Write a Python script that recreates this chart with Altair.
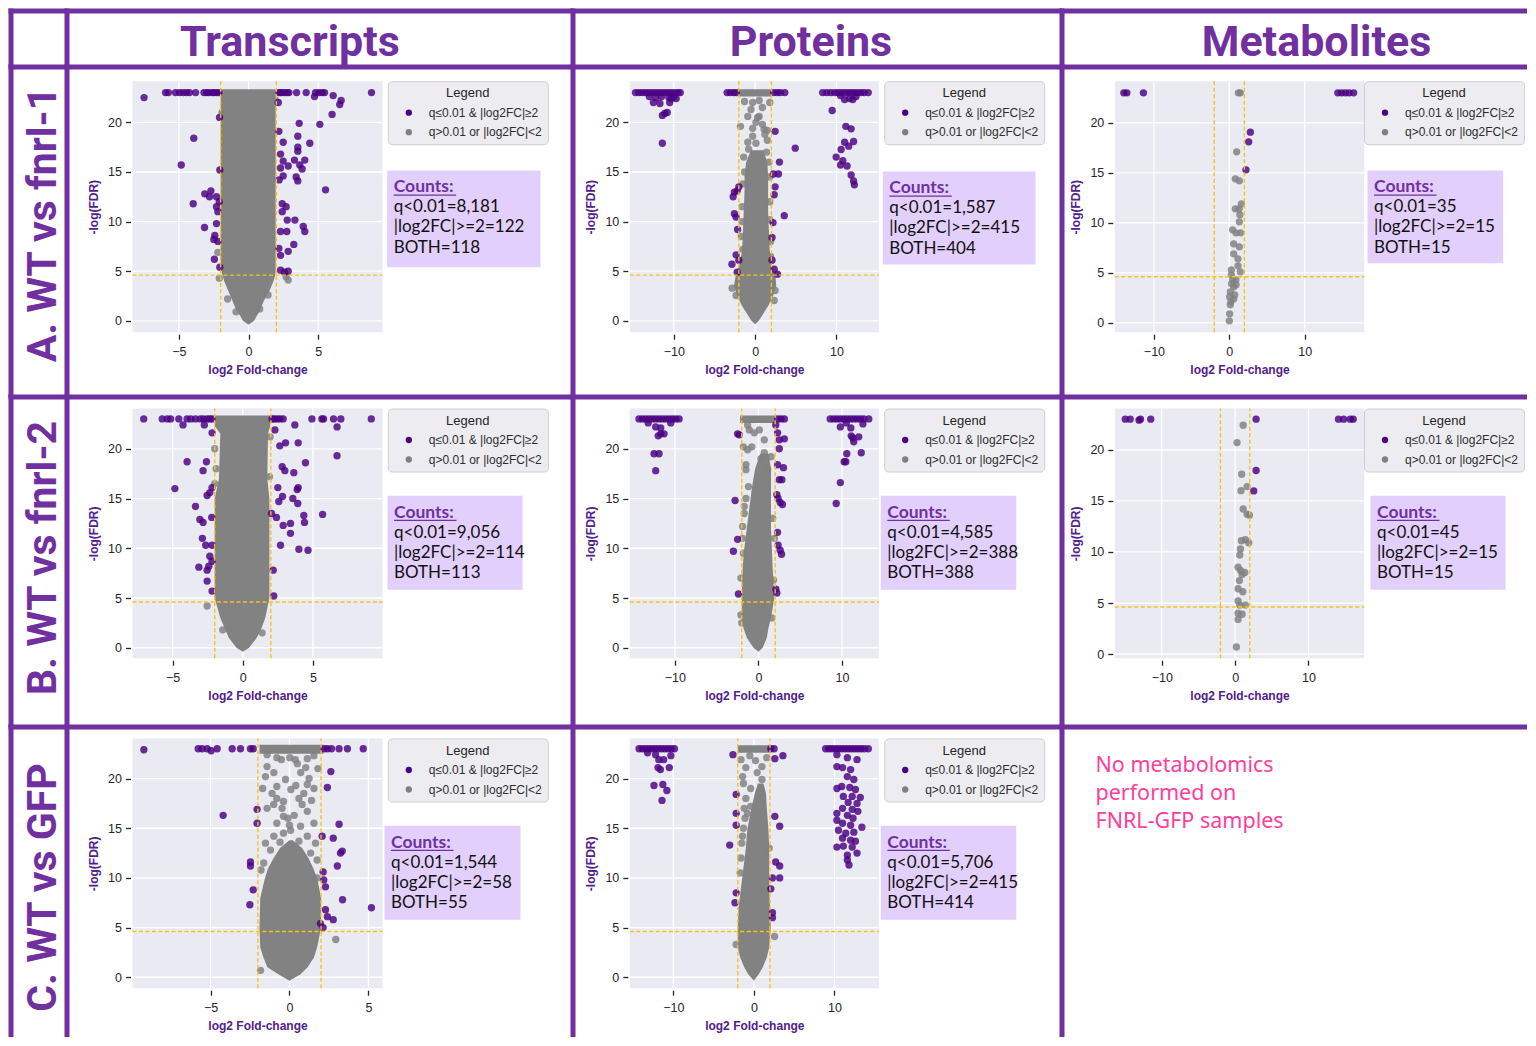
import math
import altair as alt
import pandas as pd

# ------------------------------------------------------------------ data
SIG_LABEL = "q≤0.01 & |log2FC|≥2"
NS_LABEL = "q>0.01 or |log2FC|<2"
FC_CUT = 2.0
Q_CUT = 0.01
TOP_CAP = 23.0
Y_TICKS = [0, 5, 10, 15, 20]

COLUMN_TITLES = ["Transcripts", "Proteins", "Metabolites"]
ROW_TITLES = ["A. WT vs fnrl-1", "B. WT vs fnrl-2", "C. WT vs GFP"]
NOTE_LINES = ["No metabolomics", "performed on", "FNRL-GFP samples"]
COUNT_PREFIX = ["q<0.01=", "|log2FC|>=2=", "BOTH="]

# ---- Transcripts, WT vs fnrl-1
TA_COUNTS = ["8,181", "122", "118"]
TA_XDOM = [-8.33, 9.62]
TA_YDOM = [-1.15, 24.15]
TA_XTICKS = [-5, 0, 5]
TA_TOP_SIG_X = [-5.96, -5.75, -5.24, -4.95, -4.69, -4.45, -4.24, -3.8, -3.2, -3.0, -2.85, -2.6,
                -2.49, -2.3, -2.13, 2.18, 2.3, 2.42, 2.6, 2.78, 2.9, 3.45, 4.14, 4.81, 5.05, 5.29,
                5.46, 8.83]
TA_SIG = [(-7.5, 22.5), (4.74, 22.6), (6.08, 22.7), (6.65, 22.2), (6.55, 21.8), (6.0, 20.8),
          (5.12, 19.8), (3.64, 19.9), (4.4, 17.9), (2.49, 18.0), (3.54, 18.6), (3.54, 17.5),
          (3.54, 17.1), (2.18, 19.1), (2.3, 16.8), (4.04, 16.2), (3.3, 16.2), (3.68, 15.7),
          (3.85, 15.3), (2.85, 15.6), (2.49, 16.1), (2.3, 15.4), (2.49, 14.6), (3.42, 14.5),
          (3.54, 14.1), (5.53, 13.2), (2.2, 14.2), (2.42, 11.8), (2.7, 11.5), (2.42, 11.0),
          (2.78, 10.15), (3.33, 10.15), (3.93, 9.5), (4.04, 9.0), (2.75, 9.0), (2.3, 9.0),
          (3.25, 7.7), (2.85, 7.0), (2.3, 6.6), (2.18, 7.3), (2.3, 5.1), (2.58, 4.9), (2.85, 5.0),
          (2.14, 22.0), (-3.93, 18.4), (-4.83, 15.7), (-2.08, 20.5), (-2.06, 15.2), (-3.14, 12.8),
          (-2.7, 13.1), (-2.8, 12.5), (-2.3, 12.5), (-3.97, 11.8), (-2.3, 11.5), (-2.1, 12.0),
          (-2.2, 11.0), (-3.16, 9.4), (-2.3, 9.8), (-2.42, 8.6), (-2.49, 8.2), (-2.2, 8.0),
          (-2.45, 6.2), (-2.06, 5.4)]
TA_NS = [(2.85, 4.1), (2.7, 4.45), (-2.1, 4.3), (-2.2, 6.9), (1.9, 22.3), (-1.9, 21.0),
         (-1.5, 2.2), (1.4, 2.6), (-0.9, 0.9), (0.8, 1.2)]
TA_CORE = [(0, -0.4, 0.0, 0.0), (0, 0.0, -0.4, 0.4), (0, 0.5, -0.6, 0.6), (0, 1.0, -0.85, 0.82),
           (0, 1.5, -1.0, 0.95), (0, 2.0, -1.15, 1.1), (0, 2.5, -1.3, 1.3), (0, 3.0, -1.45, 1.5),
           (0, 3.5, -1.6, 1.65), (0, 4.0, -1.75, 1.8), (0, 4.5, -1.85, 1.9), (0, 5.0, -1.95, 1.95),
           (0, 6.0, -2.0, 1.95), (0, 23.35, -2.0, 1.95)]

# ---- Transcripts, WT vs fnrl-2
TB_COUNTS = ["9,056", "114", "113"]
TB_XDOM = [-7.86, 9.96]
TB_YDOM = [-1.05, 24.05]
TB_XTICKS = [-5, 0, 5]
TB_TOP_SIG_X = [-7.06, -5.74, -5.38, -5.14, -4.56, -3.97, -3.7, -3.37, -3.02, -2.8, -2.54, -2.35,
                -2.19, 2.09, 2.25, 2.45, 2.65, 2.88, 4.93, 5.64, 5.76, 6.47, 6.99, 9.16]
TB_SIG = [(-4.26, 22.4), (-2.74, 22.4), (-2.19, 21.6), (3.71, 22.4), (2.29, 21.9), (6.72, 22.2),
          (6.72, 19.3), (3.95, 20.6), (3.05, 20.6), (2.64, 20.3), (-3.97, 18.7), (-2.59, 18.7),
          (-2.83, 17.8), (4.47, 18.6), (2.81, 18.2), (3.0, 17.8), (3.64, 17.6), (-4.84, 16.0),
          (-2.19, 16.1), (-2.54, 15.3), (-2.35, 15.6), (2.5, 16.1), (3.95, 16.1), (3.88, 15.9),
          (2.83, 15.2), (3.57, 15.0), (2.57, 14.7), (3.92, 14.5), (-3.37, 14.2), (-3.06, 12.9),
          (-2.83, 12.6), (-2.21, 13.1), (2.05, 13.5), (2.4, 13.1), (4.35, 13.3), (5.69, 13.4),
          (3.4, 12.5), (2.88, 12.3), (4.4, 12.6), (3.4, 11.5), (-2.88, 11.0), (-2.64, 10.3),
          (-2.19, 10.3), (2.69, 10.3), (4.0, 9.9), (4.65, 9.8), (-2.35, 9.2), (-2.19, 8.7),
          (-3.13, 8.1), (-2.54, 7.8), (-2.42, 8.2), (2.17, 7.8), (-2.54, 6.7), (-2.19, 5.7),
          (2.21, 5.2)]
TB_NS = [(-2.54, 4.2), (-1.43, 1.8), (1.38, 1.5), (-2.0, 20.0), (-1.9, 18.0), (1.95, 21.2),
         (1.9, 17.2), (-2.0, 16.5)]
TB_CORE = [(0, -0.4, 0.0, 0.0), (0, 0.0, -0.45, 0.45), (0, 1.0, -1.0, 1.0), (0, 2.0, -1.3, 1.35),
           (0, 3.0, -1.6, 1.6), (0, 4.0, -1.8, 1.75), (0, 5.0, -2.0, 1.9), (0, 15.0, -2.0, 1.9),
           (0, 17.0, -1.7, 1.75), (0, 21.5, -1.6, 1.8), (0, 22.3, -2.0, 1.95), (0, 23.35, -2.0, 1.95)]

# ---- Transcripts, WT vs GFP
TC_COUNTS = ["1,544", "58", "55"]
TC_XDOM = [-9.94, 5.89]
TC_YDOM = [-1.1, 24.03]
TC_XTICKS = [-5, 0, 5]
TC_TOP_SIG_X = [-5.78, -5.53, -5.21, -4.58, -3.63, -3.1, -2.47, -2.3, 2.2, 2.4, 2.66, 3.14, 3.67, 4.67]
TC_SIG = [(-9.22, 22.9), (-4.96, 22.8), (2.62, 20.7), (2.4, 19.1), (-4.2, 16.3), (-2.05, 16.9),
          (-2.05, 15.5), (3.14, 15.4), (2.07, 14.2), (2.77, 14.0), (3.34, 12.7), (3.23, 12.5),
          (-2.47, 11.6), (-2.47, 11.2), (3.03, 11.2), (2.13, 10.6), (2.17, 9.8), (2.28, 9.1),
          (-2.3, 8.8), (-2.51, 7.3), (3.36, 7.8), (5.19, 7.0), (2.28, 6.8), (2.4, 6.1), (2.77, 5.8),
          (1.96, 5.4), (2.13, 5.0)]
TC_NS = [(-1.42, 22.4), (-0.8, 22.1), (-1.42, 21.2), (-0.51, 21.9), (0.02, 22.1), (0.37, 21.9),
         (1.13, 22.0), (1.55, 22.3), (1.03, 21.1), (0.71, 20.6), (1.24, 20.0), (1.13, 19.4),
         (0.4, 19.3), (0.09, 18.9), (0.91, 18.5), (1.55, 19.0), (-1.52, 20.2), (-0.99, 20.6),
         (-0.25, 19.9), (-0.8, 19.2), (-1.1, 18.5), (-0.8, 18.0), (-0.38, 17.7), (-1.0, 17.4),
         (-0.47, 17.0), (-1.42, 17.0), (0.6, 18.0), (0.8, 17.4), (1.13, 16.7), (0.3, 16.3),
         (-0.1, 16.0), (-0.38, 16.2), (-0.8, 15.5), (1.55, 15.5), (0.7, 15.2), (0.07, 14.8),
         (-0.38, 14.5), (-0.99, 14.2), (-1.52, 13.5), (1.13, 14.2), (1.65, 13.5), (-1.2, 12.8),
         (1.34, 12.5), (-1.63, 11.5), (1.75, 11.8), (-1.8, 10.8), (1.75, 10.0), (2.93, 3.8),
         (-1.83, 0.7), (0.5, 21.5), (1.8, 21.0), (-1.7, 19.0), (1.4, 17.8), (0.0, 15.3),
         (-0.6, 13.6), (0.6, 13.7)]
TC_CORE = [(0, -0.35, 0.0, 0.0), (0, 0.3, -0.7, 0.7), (0, 1.0, -1.4, 1.15), (0, 2.0, -1.65, 1.55),
           (0, 3.0, -1.85, 1.75), (0, 5.0, -1.9, 2.0), (0, 8.0, -1.85, 2.0), (0, 10.0, -1.55, 1.75),
           (0, 11.0, -1.35, 1.5), (0, 12.0, -1.0, 1.2), (0, 13.0, -0.6, 0.8), (0, 13.8, 0.0, 0.2),
           (1, 22.5, -1.9, 2.15), (1, 23.4, -1.9, 2.15)]

# ---- Proteins, WT vs fnrl-1
PA_COUNTS = ["1,587", "415", "404"]
PA_XDOM = [-15.4, 15.2]
PA_YDOM = [-1.15, 24.15]
PA_XTICKS = [-10, 0, 10]
PA_TOP_SIG_X = [-14.7, -14.3, -13.9, -13.5, -13.1, -12.7, -12.3, -11.9, -11.5, -11.1, -10.7, -10.3,
                -9.9, -9.5, -9.2, -3.44, -3.03, -2.62, -2.3, 2.29, 2.71, 3.1, 3.65, 8.3, 8.8, 9.3,
                9.8, 10.2, 10.6, 11.0, 11.4, 11.8, 12.2, 12.6, 13.0, 13.4, 13.9]
PA_SIG = [(-13.0, 22.6), (-12.2, 22.5), (-11.5, 22.6), (-10.6, 22.5), (-10.0, 22.6), (-12.5, 22.0),
          (-11.7, 21.9), (-10.5, 22.0), (-10.3, 22.4), (-9.7, 22.4), (-11.1, 20.9), (-11.4, 20.7),
          (-10.8, 21.0), (-11.4, 17.9), (11.0, 22.3), (11.6, 22.4), (12.4, 22.6), (10.5, 22.7),
          (12.0, 22.3), (9.47, 21.2), (11.15, 19.6), (11.8, 19.35), (12.1, 18.07), (11.0, 18.0),
          (10.57, 17.27), (11.5, 17.6), (9.96, 16.5), (10.78, 16.15), (10.5, 15.7), (11.3, 15.6),
          (11.8, 14.7), (12.1, 14.1), (12.2, 13.7), (-2.55, 12.97), (-2.7, 12.5), (-2.0, 13.5),
          (-2.2, 13.1), (-2.55, 10.8), (-2.34, 10.45), (-2.15, 9.2), (-2.34, 6.65), (-2.85, 5.7),
          (-2.2, 4.9), (-2.0, 6.1), (2.46, 19.1), (2.99, 16.0), (2.25, 14.8), (2.87, 14.8),
          (2.46, 13.5), (2.34, 12.7), (3.58, 10.6), (4.93, 17.4), (2.2, 9.9), (2.08, 8.4),
          (2.08, 6.1), (2.34, 5.2), (2.75, 4.7)]
PA_NS = [(-0.9, 20.6), (0.3, 20.5), (0.9, 19.8), (1.1, 19.3), (-0.3, 19.4), (0.5, 20.6),
         (0.1, 20.0), (1.5, 19.2), (-1.8, 19.6), (1.2, 18.8), (-0.3, 18.6), (-0.9, 18.0),
         (1.5, 18.2), (0.1, 17.9), (-0.8, 17.3), (-0.3, 22.0), (0.5, 22.2), (1.8, 22.0),
         (-1.3, 22.1), (0.9, 21.5), (-0.5, 21.3), (1.4, 17.0), (-1.4, 16.5), (1.7, 16.0),
         (-1.3, 15.0), (1.8, 14.5), (-1.5, 13.8), (-1.6, 11.5), (1.8, 12.0), (-1.7, 8.5),
         (1.9, 8.0), (-2.83, 3.29), (2.46, 3.05), (2.34, 2.05), (-2.34, 2.55), (-1.6, 10.0),
         (1.8, 10.2), (-1.5, 7.2), (1.9, 6.5)]
PA_CORE = [(0, -0.35, 0.0, 0.0), (0, 0.0, -0.45, 0.45), (0, 0.7, -1.0, 1.0), (0, 1.5, -1.6, 1.6),
           (0, 2.5, -2.2, 2.2), (0, 3.5, -2.6, 2.6), (0, 4.5, -2.4, 2.5), (0, 5.5, -2.0, 2.1),
           (0, 7.0, -1.6, 1.8), (0, 9.0, -1.5, 1.7), (0, 11.0, -1.4, 1.6), (0, 13.0, -1.3, 1.6),
           (0, 14.5, -1.3, 1.6), (0, 16.0, -1.1, 1.5), (0, 17.2, -0.5, 1.0),
           (1, 22.6, -2.1, 2.0), (1, 23.35, -2.1, 2.0)]

# ---- Proteins, WT vs fnrl-2
PB_COUNTS = ["4,585", "388", "388"]
PB_XDOM = [-15.4, 14.4]
PB_YDOM = [-1.05, 24.05]
PB_XTICKS = [-10, 0, 10]
PB_TOP_SIG_X = [-14.3, -13.9, -13.5, -13.1, -12.7, -12.3, -11.9, -11.5, -11.1, -10.7, -10.3, -9.9,
                -9.5, 2.3, 2.7, 3.1, 8.58, 9.0, 9.4, 9.8, 10.2, 10.6, 11.0, 11.4, 11.8, 12.2,
                12.6, 13.2]
PB_SIG = [(-12.3, 22.2), (-11.7, 22.1), (-13.2, 22.6), (-10.5, 22.6), (-12.0, 21.3), (-11.7, 21.5),
          (-11.3, 21.5), (-12.5, 19.5), (-11.9, 19.5), (-12.3, 17.8), (9.8, 22.2), (11.05, 22.1),
          (11.1, 21.3), (11.3, 21.1), (12.0, 21.2), (11.4, 20.7), (10.57, 19.5), (10.25, 18.7),
          (10.45, 18.7), (12.3, 19.6), (9.8, 16.6), (9.3, 14.5), (12.5, 22.5), (10.5, 22.6),
          (-2.5, 21.5), (-2.3, 21.4), (2.07, 22.4), (2.29, 21.6), (2.49, 20.9), (3.1, 21.0),
          (2.49, 20.0), (2.29, 18.4), (2.99, 18.1), (2.49, 16.9), (2.8, 16.9), (2.2, 15.4),
          (2.35, 15.0), (2.6, 14.6), (2.87, 14.4), (2.28, 11.6), (2.35, 10.3), (2.6, 9.8),
          (2.76, 9.4), (2.08, 5.9), (2.2, 5.5), (-2.8, 14.8), (-2.5, 10.9), (-3.0, 9.7),
          (-2.4, 5.4)]
PB_NS = [(-1.3, 22.4), (-1.1, 21.9), (0.1, 21.9), (-0.5, 21.6), (0.7, 20.9), (-0.8, 20.2),
         (-1.8, 20.2), (-1.3, 19.9), (0.7, 19.6), (1.5, 19.2), (-1.5, 18.4), (-1.5, 17.9),
         (0.3, 19.0), (1.1, 17.9), (-1.7, 13.5), (-1.5, 15.0), (-1.2, 16.2), (-1.9, 12.2),
         (-1.8, 9.5), (1.9, 11.0), (-2.1, 7.0), (1.8, 6.8), (-2.1, 3.3), (-2.0, 2.5), (1.6, 3.0),
         (-1.9, 11.0), (-1.7, 14.2), (1.7, 13.0)]
PB_CORE = [(0, -0.4, 0.0, 0.0), (0, 0.0, -0.6, 0.5), (0, 1.0, -1.4, 1.0), (0, 2.0, -1.8, 1.2),
           (0, 3.0, -2.0, 1.5), (0, 5.0, -2.0, 1.9), (0, 8.0, -1.9, 1.7), (0, 10.0, -1.7, 1.6),
           (0, 12.0, -1.4, 1.5), (0, 14.0, -1.1, 1.5), (0, 16.0, -0.8, 1.5), (0, 18.0, -0.4, 1.5),
           (0, 19.5, 0.2, 1.2), (1, 22.6, -2.2, 2.0), (1, 23.35, -2.2, 2.0)]

# ---- Proteins, WT vs GFP
PC_COUNTS = ["5,706", "415", "414"]
PC_XDOM = [-15.4, 15.5]
PC_YDOM = [-1.1, 24.03]
PC_XTICKS = [-10, 0, 10]
PC_TOP_SIG_X = [-14.25, -13.85, -13.45, -13.05, -12.65, -12.25, -11.85, -11.45, -11.05, -10.65,
                -10.25, -9.86, 2.1, 2.5, 8.9, 9.3, 9.7, 10.1, 10.5, 10.9, 11.3, 11.7, 12.1, 12.5,
                12.9, 13.3, 13.7, 14.2]
PC_SIG = [(-13.2, 22.6), (-12.2, 22.4), (-10.3, 22.3), (-11.8, 21.9), (-11.2, 21.9), (-11.9, 21.1),
          (-11.6, 20.9), (-10.5, 21.1), (-12.4, 19.3), (-11.3, 19.4), (-10.8, 18.8), (-11.4, 17.8),
          (10.3, 22.4), (11.6, 22.1), (12.8, 21.9), (10.3, 21.2), (11.0, 21.1), (12.0, 20.9),
          (11.6, 20.2), (12.4, 19.9), (10.3, 19.0), (10.9, 19.2), (11.9, 19.1), (12.6, 18.9),
          (11.1, 18.2), (12.2, 18.2), (13.2, 18.1), (11.7, 17.6), (12.8, 17.5), (11.0, 17.0),
          (12.2, 16.9), (12.9, 16.7), (10.3, 16.5), (11.6, 16.3), (12.3, 16.0), (10.3, 15.8),
          (11.0, 15.5), (12.0, 15.3), (13.4, 15.1), (10.5, 14.8), (11.4, 14.5), (12.4, 14.6),
          (11.0, 14.0), (12.0, 13.8), (12.6, 13.7), (10.3, 13.1), (11.1, 13.2), (12.2, 13.1),
          (12.8, 12.5), (11.6, 12.3), (11.6, 11.8), (11.8, 11.3), (-2.6, 22.4), (2.6, 22.0),
          (3.6, 22.3), (-2.2, 18.4), (-2.2, 16.5), (-2.2, 15.3), (-3.0, 13.3), (-2.2, 8.5),
          (-2.35, 7.5), (2.6, 16.2), (3.2, 15.2), (2.7, 11.6), (3.2, 11.2), (2.3, 10.0),
          (3.2, 10.0), (2.1, 8.9), (2.3, 6.5), (2.3, 6.0)]
PC_NS = [(-1.6, 21.9), (-1.0, 21.1), (-1.4, 20.2), (0.2, 21.8), (1.0, 21.2), (0.4, 20.6),
         (-1.3, 19.5), (-0.4, 19.0), (1.0, 19.9), (-1.0, 18.0), (-0.4, 17.2), (-1.2, 17.0),
         (-0.8, 16.5), (-1.3, 15.0), (-1.5, 13.5), (-1.6, 12.0), (-1.7, 10.5), (2.56, 4.1),
         (-2.2, 3.3), (1.9, 13.0), (-0.5, 22.3), (1.6, 22.1), (-1.4, 14.2), (-1.1, 16.0)]
PC_CORE = [(0, -0.35, 0.0, 0.0), (0, 0.3, -0.7, 0.6), (0, 1.0, -1.2, 1.1), (0, 2.0, -1.7, 1.6),
           (0, 3.0, -2.0, 1.9), (0, 5.0, -2.0, 2.1), (0, 7.0, -1.9, 2.0), (0, 9.0, -1.6, 1.9),
           (0, 11.0, -1.3, 1.9), (0, 13.0, -1.0, 1.9), (0, 15.0, -0.8, 1.8), (0, 17.0, -0.3, 1.6),
           (0, 18.5, 0.1, 1.5), (0, 19.5, 0.5, 1.2), (1, 22.6, -2.0, 1.95), (1, 23.35, -2.0, 1.95)]

# ---- Metabolites, WT vs fnrl-1
MA_COUNTS = ["35", "15", "15"]
MA_XDOM = [-15.2, 17.9]
MA_YDOM = [-0.94, 24.16]
MA_XTICKS = [-10, 0, 10]
MA_TOP_SIG_X = [-14.0, -13.6, -11.4, 14.4, 14.9, 15.4, 15.9, 16.5]
MA_SIG = [(2.79, 19.06), (2.57, 18.1), (2.21, 15.3)]
MA_NS = [(1.2, 23.0), (1.46, 23.0), (0.97, 17.1), (0.8, 14.4), (1.33, 14.2), (1.6, 11.9),
         (0.8, 11.4), (1.3, 11.4), (1.4, 10.8), (1.33, 10.1), (0.44, 9.3), (0.88, 9.0), (1.5, 9.0),
         (0.58, 7.9), (1.33, 7.6), (0.58, 6.9), (1.15, 6.4), (1.15, 5.7), (1.46, 5.1), (0.27, 4.8),
         (0.44, 4.3), (0.88, 4.3), (0.58, 3.6), (0.13, 3.1), (0.71, 2.8), (0.04, 2.6), (0.58, 2.4),
         (0.13, 1.8), (0.04, 0.9), (0.0, 0.2), (0.27, 5.3), (0.9, 3.8), (0.3, 3.9), (0.2, 2.1)]
MA_CORE = []

# ---- Metabolites, WT vs fnrl-2
MB_COUNTS = ["45", "15", "15"]
MB_XDOM = [-16.4, 17.6]
MB_YDOM = [-0.4, 24.04]
MB_XTICKS = [-10, 0, 10]
MB_TOP_SIG_X = [-14.97, -14.3, -12.9, -11.5, 2.86, 14.1, 14.8, 15.7, 16.1]
MB_SIG = [(-13.1, 22.9), (2.86, 17.97), (2.54, 15.97)]
MB_NS = [(1.1, 22.4), (0.27, 20.7), (0.9, 17.6), (0.8, 16.0), (1.63, 16.4), (1.1, 14.2),
         (1.63, 13.7), (1.95, 13.6), (0.86, 11.1), (1.4, 11.2), (1.86, 10.9), (0.73, 10.3),
         (0.64, 9.7), (0.41, 8.5), (0.73, 8.2), (1.32, 8.0), (0.96, 7.8), (0.59, 7.2), (0.41, 6.4),
         (1.05, 6.1), (0.41, 5.2), (0.64, 4.8), (1.4, 4.8), (0.41, 4.0), (0.96, 3.9), (0.41, 3.4),
         (0.18, 0.7)]
MB_CORE = []

# ------------------------------------------------------------------ style / layout
PURPLE = "#7030a0"
AXIS_PURPLE = "#52218c"
PT_PURPLE = "#4b0082"
PT_GRAY = "#808080"
CORE_GRAY = "#828282"
PLOT_BG = "#eaeaf2"
GOLD = "#f9c21b"
TICK = "#262626"
BOX_FILL = "#e2cffc"
PINK = "#ff3d9a"
SANS = "Liberation Sans"
BODY = "Lato"
NOTE = "Noto Sans"
HEAD = "Roboto"
LINE = 5

COL_W = [56, 506, 489, 465]
ROW_H = [56, 330, 330, 310]
PLOT_X = {1: (65.5, 315.5), 2: (56.8, 305.8), 3: (52.8, 302.2)}
PLOT_Y = {1: (14.2, 265.2), 2: (11.5, 261.2), 3: (11.5, 261.2)}
LEGEND_X = {1: 320.8, 2: 311.2, 3: 302.0}
BOX = {(1, 1): (320.2, 473.5, 103.5, 200.2), (2, 1): (320.5, 455.5, 98.8, 192.8),
       (3, 1): (317.5, 453.5, 98.8, 192.8), (1, 2): (309.8, 462.5, 104.5, 197.5),
       (2, 2): (307.8, 443.2, 98.8, 192.8), (3, 2): (307.8, 443.2, 98.8, 192.8),
       (1, 3): (305.5, 441.2, 103.5, 196.2), (2, 3): (308.5, 443.5, 98.8, 192.8)}
HEAD_CX = {1: 223, 2: 238, 3: 254.5}
ROW_CY = {1: 157.5, 2: 161, 3: 160.5}


def one():
    return pd.DataFrame({"k": [0]})


def borders(W, H):
    h = LINE / 2
    top = alt.Chart(one()).mark_rect(color=PURPLE).encode(
        x=alt.value(-h), x2=alt.value(W), y=alt.value(-h), y2=alt.value(h))
    left = alt.Chart(one()).mark_rect(color=PURPLE).encode(
        x=alt.value(-h), x2=alt.value(h), y=alt.value(-h), y2=alt.value(H))
    return [top, left]


def panel(prefix):
    g = globals()
    return dict(counts=g[prefix + "_COUNTS"], xdom=g[prefix + "_XDOM"], ydom=g[prefix + "_YDOM"],
                xticks=g[prefix + "_XTICKS"], top=g[prefix + "_TOP_SIG_X"], sig=g[prefix + "_SIG"],
                ns=g[prefix + "_NS"], core=g[prefix + "_CORE"])


def volcano(p, row, col):
    W, H = COL_W[col], ROW_H[row]
    L, R = PLOT_X[col]
    T, B = PLOT_Y[row]
    x0, x1 = p["xdom"]
    y0, y1 = p["ydom"]
    xs = alt.Scale(domain=[x0, x1], range=[L, R], nice=False, zero=False)
    ys = alt.Scale(domain=[y0, y1], range=[B, T], nice=False, zero=False)
    xaxis = alt.Axis(values=p["xticks"], title="log2 Fold-change", grid=False, domain=False,
                     tickSize=5, tickWidth=1.3, tickColor=TICK, labelColor=TICK, labelFont=SANS,
                     labelFontSize=12.5, labelPadding=6.5, labelFlush=False, offset=B + 2 - H,
                     titleFont=SANS, titleFontSize=12, titleFontWeight="bold",
                     titleColor=AXIS_PURPLE, titleX=(L + R) / 2, titleY=35.5,
                     titleBaseline="middle", titleAlign="center")
    yaxis = alt.Axis(values=Y_TICKS, title="-log(FDR)", grid=False, domain=False,
                     tickSize=5, tickWidth=1.3, tickColor=TICK, labelColor=TICK, labelFont=SANS,
                     labelFontSize=12.5, labelPadding=4, labelFlush=False, offset=2 - L,
                     titleFont=SANS, titleFontSize=12, titleFontWeight="bold",
                     titleColor=AXIS_PURPLE, titleX=-37, titleY=(T + B) / 2, titleAngle=270,
                     titleBaseline="middle", titleAlign="center")

    def X(f):
        return alt.X(f + ":Q", scale=xs, axis=xaxis)

    def Y(f):
        return alt.Y(f + ":Q", scale=ys, axis=yaxis)

    layers = []
    bg = pd.DataFrame({"x1": [x0], "x2": [x1], "y1": [y0], "y2": [y1]})
    layers.append(alt.Chart(bg).mark_rect(color=PLOT_BG).encode(
        x=X("x1"), x2="x2:Q", y=Y("y1"), y2="y2:Q"))
    gv = pd.DataFrame({"v": p["xticks"], "y1": y0, "y2": y1})
    layers.append(alt.Chart(gv).mark_rule(color="white", strokeWidth=1.3).encode(
        x=X("v"), y=Y("y1"), y2="y2:Q"))
    gh = pd.DataFrame({"v": Y_TICKS, "x1": x0, "x2": x1})
    layers.append(alt.Chart(gh).mark_rule(color="white", strokeWidth=1.3).encode(
        y=Y("v"), x=X("x1"), x2="x2:Q"))
    if p["core"]:
        core = pd.DataFrame(p["core"], columns=["seg", "y", "xl", "xr"])
        layers.append(alt.Chart(core).mark_area(orient="horizontal", color=CORE_GRAY).encode(
            y=Y("y"), x=X("xl"), x2="xr:Q", detail="seg:N"))
    rows = [(x, y, NS_LABEL) for x, y in p["ns"]]
    rows += [(x, TOP_CAP, SIG_LABEL) for x in p["top"]]
    rows += [(x, y, SIG_LABEL) for x, y in p["sig"]]
    pts = pd.DataFrame(rows, columns=["x", "y", "cls"])
    legend = alt.Legend(orient="none", legendX=LEGEND_X[col], legendY=T, title="Legend",
                        titleAnchor="middle", titleFont=SANS, titleFontSize=13,
                        titleFontWeight="normal", titleColor="#262626", titlePadding=6.5,
                        labelFont=SANS, labelFontSize=12, labelColor="#2e2e2e", labelOffset=14,
                        labelLimit=220, symbolType="circle", symbolSize=40, symbolStrokeWidth=0,
                        symbolOffset=9, symbolOpacity=1, padding=6, rowPadding=7.5,
                        fillColor="#ececf1", strokeColor="#cfcfd4", cornerRadius=4)
    layers.append(alt.Chart(pts).mark_circle(size=54, opacity=0.82).encode(
        x=X("x"), y=Y("y"),
        color=alt.Color("cls:N", scale=alt.Scale(domain=[SIG_LABEL, NS_LABEL],
                                                 range=[PT_PURPLE, PT_GRAY]), legend=legend)))
    tv = pd.DataFrame({"v": [-FC_CUT, FC_CUT], "y1": y0, "y2": y1})
    layers.append(alt.Chart(tv).mark_rule(color=GOLD, strokeWidth=1.4, strokeDash=[4, 2.5]).encode(
        x=X("v"), y=Y("y1"), y2="y2:Q"))
    th = pd.DataFrame({"v": [-math.log(Q_CUT)], "x1": [x0], "x2": [x1]})
    layers.append(alt.Chart(th).mark_rule(color=GOLD, strokeWidth=1.4, strokeDash=[4, 2.5]).encode(
        y=Y("v"), x=X("x1"), x2="x2:Q"))
    # counts box
    bx0, bx1, by0, by1 = BOX[(row, col)]
    layers.append(alt.Chart(one()).mark_rect(color=BOX_FILL).encode(
        x=alt.value(bx0), x2=alt.value(bx1), y=alt.value(by0), y2=alt.value(by1)))
    layers.append(alt.Chart(one()).mark_text(font=BODY, fontSize=17.5, fontWeight="bold", color=PURPLE,
                                             align="left", baseline="alphabetic").encode(
        x=alt.value(bx0 + 6.5), y=alt.value(by0 + 21.7), text=alt.value("Counts:")))
    layers.append(alt.Chart(one()).mark_rule(color=PURPLE, strokeWidth=1.3).encode(
        x=alt.value(bx0 + 6.5), x2=alt.value(bx0 + 69), y=alt.value(by0 + 24.6)))
    body = pd.DataFrame({"body": ["\n".join(a + b for a, b in zip(COUNT_PREFIX, p["counts"]))]})
    layers.append(alt.Chart(body).mark_text(font=BODY, fontSize=17, color="#111111", align="left",
                                            baseline="alphabetic", lineBreak="\n",
                                            lineHeight=20.3).encode(
        x=alt.value(bx0 + 6.5), y=alt.value(by0 + 41.7), text="body:N"))
    layers += borders(W, H)
    return alt.layer(*layers).properties(width=W, height=H)


def header(col):
    W, H = COL_W[col], ROW_H[0]
    txt = alt.Chart(one()).mark_text(font=HEAD, fontSize=43, fontWeight="bold", color=PURPLE,
                                     align="center", baseline="alphabetic").encode(
        x=alt.value(HEAD_CX[col]), y=alt.value(45), text=alt.value(COLUMN_TITLES[col - 1]))
    return alt.layer(txt, *borders(W, H)).properties(width=W, height=H)


def row_label(row):
    W, H = COL_W[0], ROW_H[row]
    txt = alt.Chart(one()).mark_text(font=HEAD, fontSize=41, fontWeight="bold", color=PURPLE,
                                     align="center", baseline="alphabetic", angle=270).encode(
        x=alt.value(45), y=alt.value(ROW_CY[row]), text=alt.value(ROW_TITLES[row - 1]))
    return alt.layer(txt, *borders(W, H)).properties(width=W, height=H)


def corner():
    return alt.layer(*borders(COL_W[0], ROW_H[0])).properties(width=COL_W[0], height=ROW_H[0])


def note_cell():
    W, H = COL_W[3], ROW_H[3]
    txt = alt.Chart(pd.DataFrame({"t": ["\n".join(NOTE_LINES)]})).mark_text(
        font=NOTE, fontSize=21.5, color=PINK, align="left", baseline="alphabetic",
        lineBreak="\n", lineHeight=28.3).encode(
        x=alt.value(33.5), y=alt.value(44.5), text="t:N")
    return alt.layer(txt, *borders(W, H)).properties(width=W, height=H)


cells = [corner(), header(1), header(2), header(3),
         row_label(1), volcano(panel("TA"), 1, 1), volcano(panel("PA"), 1, 2), volcano(panel("MA"), 1, 3),
         row_label(2), volcano(panel("TB"), 2, 1), volcano(panel("PB"), 2, 2), volcano(panel("MB"), 2, 3),
         row_label(3), volcano(panel("TC"), 3, 1), volcano(panel("PC"), 3, 2), note_cell()]

chart = alt.concat(*cells, columns=4, spacing=0, bounds="flush", align="each").resolve_scale(
    x="independent", y="independent", color="independent").resolve_legend(
    color="independent").configure_view(strokeWidth=0).properties(
    padding={"left": 0, "top": 0, "right": 0, "bottom": 0}, background="white")

chart.save("out.html", embed_options={"renderer": "svg", "actions": False})
